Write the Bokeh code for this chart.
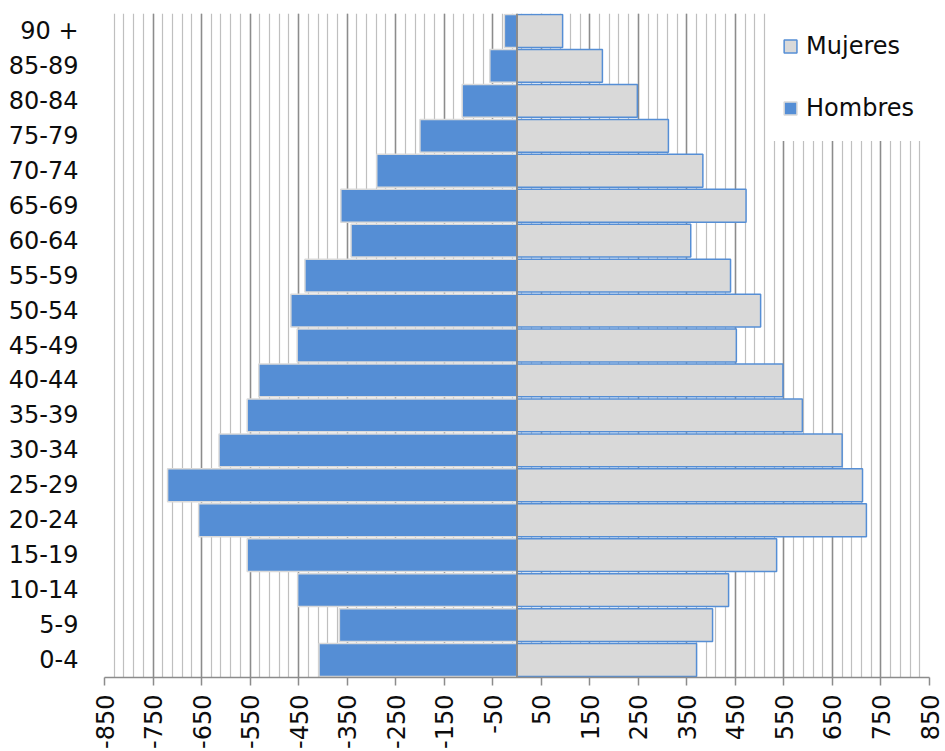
from bokeh.plotting import figure
from bokeh.models import (FactorRange, Range1d, FixedTicker, Span, Legend, LegendItem,
                          CustomJSTickFormatter)
from bokeh.embed import file_html
from bokeh.resources import INLINE
import math

# ---- data ----
age_groups = ["0-4", "5-9", "10-14", "15-19", "20-24", "25-29", "30-34", "35-39",
              "40-44", "45-49", "50-54", "55-59", "60-64", "65-69", "70-74",
              "75-79", "80-84", "85-89", "90 +"]
hombres = [-408, -366, -452, -556, -656, -720, -614, -556, -532, -453, -466,
           -437, -342, -363, -289, -200, -113, -56, -26]
mujeres = [370, 403, 436, 535, 720, 712, 670, 588, 548, 452, 502, 440, 358,
           472, 383, 312, 248, 176, 94]
tick_values = list(range(-850, 851, 100))
minor_values = list(range(-850, 851, 20))

FONT = "DejaVu Sans"
BLUE = "#558ED5"
GREY = "#D9D9D9"

p = figure(width=945, height=751, output_backend="svg", toolbar_location=None,
           y_range=FactorRange(factors=age_groups, range_padding=0),
           x_range=Range1d(-850, 850),
           min_border_left=104, min_border_right=16, min_border_top=13,
           min_border_bottom=72)
p.outline_line_color = None
p.background_fill_color = "white"
p.border_fill_color = "white"

r_h = p.hbar(y=age_groups, left=hombres, right=0, height=0.94,
             fill_color=BLUE, line_color=GREY, line_width=1.5)
r_m = p.hbar(y=age_groups, left=0, right=mujeres, height=0.94,
             fill_color=GREY, line_color=BLUE, line_width=1.5)

p.add_layout(Span(location=0, dimension="height", line_color="#8C8C8C", line_width=2))

# x axis
p.xaxis.ticker = FixedTicker(ticks=tick_values, minor_ticks=minor_values)
p.xaxis.formatter = CustomJSTickFormatter(code="return String(tick);")
p.xaxis.major_label_orientation = math.pi / 2
p.xaxis.major_label_text_font = FONT
p.xaxis.major_label_text_font_size = "24px"
p.xaxis.major_label_text_color = "#0D0D0D"
p.xaxis.major_label_standoff = 9
p.xaxis.axis_line_color = "#8C8C8C"
p.xaxis.axis_line_width = 1.5
p.xaxis.major_tick_line_color = "#8C8C8C"
p.xaxis.major_tick_line_width = 1.5
p.xaxis.major_tick_out = 8
p.xaxis.major_tick_in = 0
p.xaxis.minor_tick_line_color = None

# y axis
p.yaxis.major_label_text_font = FONT
p.yaxis.major_label_text_font_size = "24px"
p.yaxis.major_label_text_color = "#0D0D0D"
p.yaxis.major_label_standoff = 20
p.yaxis.axis_line_color = None
p.yaxis.major_tick_line_color = None
p.yaxis.minor_tick_line_color = None

# grids
p.xgrid.grid_line_color = "#8C8C8C"
p.xgrid.grid_line_width = 1.5
p.xgrid.minor_grid_line_color = "#BFBFBF"
p.xgrid.minor_grid_line_width = 1.2
p.ygrid.grid_line_color = None

legend = Legend(items=[LegendItem(label="Mujeres", renderers=[r_m]),
                       LegendItem(label="Hombres", renderers=[r_h])],
                location="top_right", orientation="vertical",
                label_text_font=FONT, label_text_font_size="24px",
                label_text_color="#0D0D0D",
                glyph_width=16, glyph_height=16, label_standoff=8,
                label_height=36,
                padding=14, spacing=26, margin=0,
                background_fill_color="white", background_fill_alpha=1.0,
                border_line_color="white", border_line_width=1)
p.add_layout(legend)

open("out.html", "w").write(file_html(p, INLINE))
